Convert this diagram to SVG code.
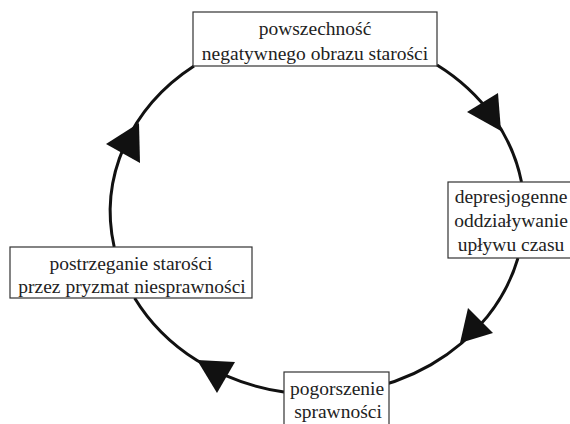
<svg xmlns="http://www.w3.org/2000/svg" width="570" height="424" viewBox="0 0 570 424">
<style>
.box{fill:#fff;stroke:#333;stroke-width:1.2}
.t{font-family:"Liberation Serif","Times New Roman",serif;font-size:19.5px;fill:#222;text-anchor:middle}
.arc{fill:none;stroke:#111;stroke-width:3}
.head{fill:#111;stroke:none}
</style>
<rect width="570" height="424" fill="#fff"/>
<g id="connectors">
<path class="arc" d="M437,65 A207,181.5 0 0,1 521.5,182"/>
<path class="arc" d="M518,258 A207,181.5 0 0,1 284,392"/>
<path class="arc" d="M284,392 A207,181.5 0 0,1 134.6,298"/>
<path class="arc" d="M114.2,247 A207,181.5 0 0,1 194,66"/>
<polygon class="head" points="467,112 498,93 501,131"/>
<polygon class="head" points="468,308 493,333 460,343"/>
<polygon class="head" points="197,360 235,362 217,393"/>
<polygon class="head" points="106,144 139,123 140,163"/>
</g>
<g id="node-top">
<rect class="box" x="193" y="12" width="244" height="54"/>
<text class="t" x="315" y="35">powszechność</text>
<text class="t" x="315" y="60">negatywnego obrazu starości</text>
</g>
<g id="node-right">
<rect class="box" x="448" y="182" width="125" height="76"/>
<text class="t" x="511" y="203">depresjogenne</text>
<text class="t" x="511" y="227">oddziaływanie</text>
<text class="t" x="511" y="251">upływu czasu</text>
</g>
<g id="node-bottom">
<rect class="box" x="284" y="372" width="105" height="60"/>
<text class="t" x="337" y="395">pogorszenie</text>
<text class="t" x="338" y="418">sprawności</text>
</g>
<g id="node-left">
<rect class="box" x="10" y="247" width="242" height="51"/>
<text class="t" x="131" y="270">postrzeganie starości</text>
<text class="t" x="132" y="293">przez pryzmat niesprawności</text>
</g>
</svg>
